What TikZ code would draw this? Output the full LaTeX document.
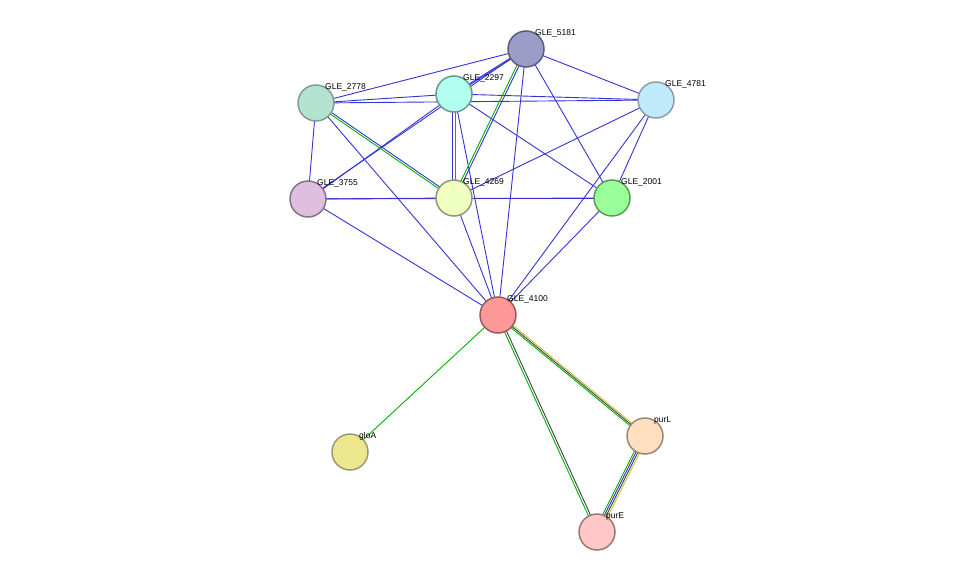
\documentclass[tikz,border=0pt]{standalone}
\usepackage{fontspec}
\setmainfont{Liberation Sans}
\begin{document}
\begin{tikzpicture}[x=1pt,y=-1pt,
  nd/.style={circle,draw,line width=1.5pt,minimum size=36pt,inner sep=0pt},
  lb/.style={font=\fontsize{8.5}{10}\selectfont,anchor=south west,inner sep=1pt},
  bl/.style={draw=blue!80!black!80,line width=0.9pt},
  gr/.style={draw=green!70!black,line width=0.9pt},
  dk/.style={draw=black!75,line width=0.9pt},
  yl/.style={draw=yellow!75!black,line width=0.9pt},
  cy/.style={draw=cyan!70!blue,line width=0.9pt}]
\useasboundingbox (0,0) rectangle (976,578);
\def\nodeat#1#2#3#4#5{\node[nd,fill=#4,draw=#4!60!black] (#1) at (#2,#3) {}; \node[lb] at (#2+8,#3-11) {#5};}
\begin{scope}[on background layer/.style={}]
\end{scope}
% edges first (placeholders via coordinates)
\coordinate (c5181) at (526,49);
\coordinate (c2297) at (454,94);
\coordinate (c2778) at (316,103);
\coordinate (c4781) at (656,100);
\coordinate (c3755) at (308,199);
\coordinate (c4269) at (454,198);
\coordinate (c2001) at (612,198);
\coordinate (c4100) at (498,315);
\coordinate (cgloA) at (350,452);
\coordinate (cpurL) at (645,436);
\coordinate (cpurE) at (597,532);
\foreach \a/\b in {5181/2778,5181/4781,5181/2001,5181/4100,2297/2778,2297/4781,2297/2001,2297/4100,2778/4781,2778/3755,2778/4100,4781/4269,4781/2001,4781/4100,3755/4269,3755/2001,3755/4100,4269/2001,4269/4100,2001/4100}
  \draw[bl] (c\a) -- (c\b);
\draw[bl,transform canvas={xshift=-1pt}] (c5181) -- (c2297);
\draw[bl,transform canvas={xshift=1pt}] (c5181) -- (c2297);
\draw[bl,transform canvas={xshift=-1pt}] (c5181) -- (c3755);
\draw[bl,transform canvas={xshift=1pt}] (c2297) -- (c3755);
\draw[gr,transform canvas={xshift=-1.2pt}] (c5181) -- (c4269);
\draw[bl,transform canvas={xshift=1.2pt}] (c5181) -- (c4269);
\draw[bl,transform canvas={xshift=-1.2pt}] (c2297) -- (c4269);
\draw[cy,transform canvas={xshift=1.2pt}] (c2297) -- (c4269);
\draw[gr,transform canvas={yshift=-1.2pt}] (c2778) -- (c4269);
\draw[bl,transform canvas={yshift=1.2pt}] (c2778) -- (c4269);
\draw[gr] (c4100) -- (cgloA);
\draw[gr,transform canvas={yshift=-2pt}] (c4100) -- (cpurL);
\draw[dk] (c4100) -- (cpurL);
\draw[yl,transform canvas={yshift=2pt}] (c4100) -- (cpurL);
\draw[gr,transform canvas={xshift=-1.2pt}] (c4100) -- (cpurE);
\draw[dk,transform canvas={xshift=1.2pt}] (c4100) -- (cpurE);
\draw[gr,transform canvas={xshift=-3pt}] (cpurL) -- (cpurE);
\draw[bl,transform canvas={xshift=-1pt}] (cpurL) -- (cpurE);
\draw[dk,transform canvas={xshift=1pt}] (cpurL) -- (cpurE);
\draw[yl,transform canvas={xshift=3pt}] (cpurL) -- (cpurE);
\nodeat{n5181}{526}{49}{blue!30!gray!60!white}{GLE\_5181}
\nodeat{n2297}{454}{94}{green!20!cyan!30!white}{GLE\_2297}
\nodeat{n2778}{316}{103}{cyan!40!green!30!white}{GLE\_2778}
\nodeat{n4781}{656}{100}{cyan!25!white}{GLE\_4781}
\nodeat{n3755}{308}{199}{violet!25!white}{GLE\_3755}
\nodeat{n4269}{454}{198}{lime!25!white}{GLE\_4269}
\nodeat{n2001}{612}{198}{green!40!white}{GLE\_2001}
\nodeat{n4100}{498}{315}{red!40!white}{GLE\_4100}
\nodeat{ngloA}{350}{452}{olive!40!yellow!40!white}{gloA}
\nodeat{npurL}{645}{436}{orange!25!white}{purL}
\nodeat{npurE}{597}{532}{red!22!white}{purE}
\end{tikzpicture}
\end{document}
